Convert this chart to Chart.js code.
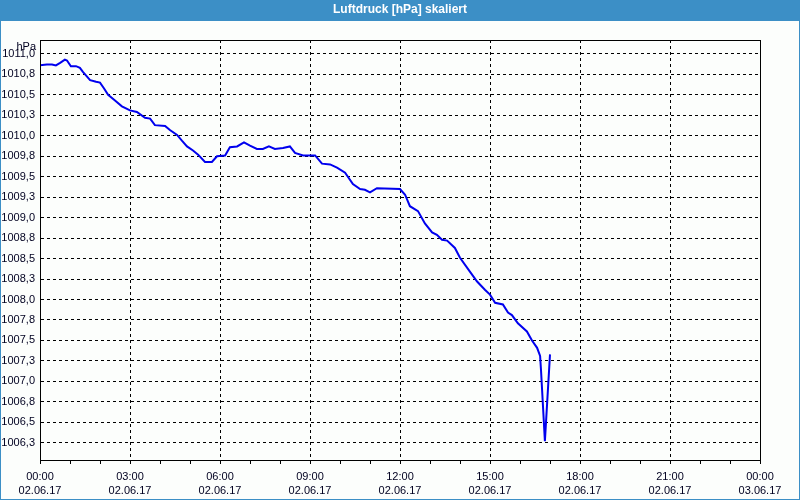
<!DOCTYPE html>
<html>
<head>
<meta charset="utf-8">
<script src="https://cdn.jsdelivr.net/npm/chart.js@4"></script>
<style>
  html, body { margin: 0; padding: 0; background: #fcfefc; }
  #wrap { width: 800px; height: 500px; position: relative; }
</style>
</head>
<body>
<div id="wrap"><canvas id="pressureChart" width="800" height="500"></canvas></div>
<script>
// hours since 02.06.17 00:00
const hours = [
  0.00, 0.23, 0.40, 0.53, 0.67, 0.83, 0.90, 1.03, 1.20, 1.33,
  1.43, 1.67, 1.87, 2.00, 2.13, 2.27, 2.50, 2.73, 2.90, 3.00,
  3.23, 3.50, 3.67, 3.83, 4.17, 4.33, 4.57, 4.73, 4.90, 5.10,
  5.27, 5.50, 5.73, 5.90, 6.17, 6.33, 6.57, 6.80, 7.00, 7.23,
  7.43, 7.63, 7.83, 8.10, 8.33, 8.50, 8.77, 9.17, 9.40, 9.67,
  9.90, 10.17, 10.43, 10.67, 10.83, 11.00, 11.23, 12.00, 12.17, 12.33,
  12.60, 12.83, 13.07, 13.23, 13.40, 13.57, 13.83, 14.00, 14.33, 14.57,
  14.83, 15.00, 15.17, 15.43, 15.60, 15.73, 15.93, 16.23, 16.40, 16.57,
  16.67, 16.70, 16.83, 17.00
];
const pressure = [
  1010.86, 1010.87, 1010.87, 1010.86, 1010.89, 1010.93, 1010.92, 1010.85, 1010.85, 1010.83,
  1010.78, 1010.68, 1010.66, 1010.65, 1010.58, 1010.50, 1010.43, 1010.36, 1010.33, 1010.31,
  1010.29, 1010.22, 1010.21, 1010.13, 1010.12, 1010.07, 1010.01, 1009.94, 1009.87, 1009.82,
  1009.77, 1009.68, 1009.68, 1009.75, 1009.76, 1009.86, 1009.87, 1009.92, 1009.88, 1009.84,
  1009.84, 1009.87, 1009.84, 1009.85, 1009.87, 1009.79, 1009.76, 1009.76, 1009.66, 1009.65,
  1009.61, 1009.55, 1009.41, 1009.35, 1009.34, 1009.31, 1009.36, 1009.35, 1009.28, 1009.14,
  1009.08, 1008.93, 1008.82, 1008.79, 1008.73, 1008.72, 1008.63, 1008.51, 1008.34, 1008.22,
  1008.12, 1008.06, 1007.96, 1007.94, 1007.84, 1007.81, 1007.71, 1007.61, 1007.50, 1007.41,
  1007.31, 1007.14, 1006.27, 1007.33
];
const yTicks = [
  1006.25, 1006.5, 1006.75, 1007.0, 1007.25, 1007.5, 1007.75, 1008.0, 1008.25, 1008.5,
  1008.75, 1009.0, 1009.25, 1009.5, 1009.75, 1010.0, 1010.25, 1010.5, 1010.75, 1011.0
];
const xTimeLabels = ["00:00", "03:00", "06:00", "09:00", "12:00", "15:00", "18:00", "21:00", "00:00"];
const xDateLabels = ["02.06.17", "02.06.17", "02.06.17", "02.06.17", "02.06.17", "02.06.17", "02.06.17", "02.06.17", "03.06.17"];

const TITLE = "Luftdruck [hPa] skaliert";
const UNIT = "hPa";
const FONT = "'Liberation Sans', Arial, sans-serif";

const frame = {
    id: "frame",
    beforeDraw(chart) {
        const c = chart.ctx;
        c.save();
        c.fillStyle = "#fcfefc";
        c.fillRect(0, 0, chart.width, chart.height);
        c.fillStyle = "#3c8fc6";
        c.fillRect(0, 0, chart.width, 21);
        c.fillRect(0, 0, 1, chart.height);
        c.fillRect(chart.width - 1, 0, 1, chart.height);
        c.fillRect(0, chart.height - 1, chart.width, 1);
        c.fillStyle = "#ffffff";
        c.font = "bold 12px " + FONT;
        c.textAlign = "center";
        c.textBaseline = "middle";
        c.fillText(TITLE, chart.width / 2, 10);
        c.restore();
    },
    afterDraw(chart) {
        const a = chart.chartArea;
        const c = chart.ctx;
        c.save();
        c.strokeStyle = "#000000";
        c.lineWidth = 1;
        c.setLineDash([]);
        c.strokeRect(Math.round(a.left) + 0.5, Math.round(a.top) + 0.5,
            Math.round(a.right - a.left), Math.round(a.bottom - a.top));
        c.fillStyle = "#000020";
        c.font = "11px " + FONT;
        c.textAlign = "right";
        c.textBaseline = "middle";
        c.fillText(UNIT, a.left - 4, a.top + 7);
        c.restore();
    }
};

new Chart(document.getElementById("pressureChart"), {
    type: "line",
    data: {
        datasets: [{
            data: hours.map((h, i) => ({ x: h, y: pressure[i] })),
            borderColor: "#0000ee",
            borderWidth: 2,
            pointRadius: 0,
            tension: 0,
            fill: false
        }]
    },
    plugins: [frame],
    options: {
        responsive: false,
        animation: false,
        layout: {
            padding: { top: 40, right: 40, bottom: 0, left: 0 }
        },
        scales: {
            x: {
                type: "linear",
                min: 0,
                max: 24,
                afterBuildTicks: axis => {
                    axis.ticks = [];
                    for (let h = 0; h <= 24; h++) axis.ticks.push({ value: h });
                },
                afterFit: axis => { axis.height = 40; },
                ticks: {
                    autoSkip: false,
                    maxRotation: 0,
                    padding: 6,
                    color: "#000020",
                    font: { family: FONT, size: 11, lineHeight: 1.27 },
                    callback: v => v % 3 === 0 ? [xTimeLabels[v / 3], xDateLabels[v / 3]] : ""
                },
                grid: {
                    color: ctx => (ctx.tick && ctx.tick.value % 3 === 0) ? "#000000" : "rgba(0,0,0,0)",
                    tickColor: "#000000",
                    tickLength: 4,
                    lineWidth: 1,
                    tickBorderDash: []
                },
                border: { display: true, color: "#000000", dash: [3, 3] }
            },
            y: {
                min: 1006.04,
                max: 1011.17,
                afterBuildTicks: axis => {
                    axis.ticks = yTicks.map(v => ({ value: v }));
                },
                afterFit: axis => { axis.width = 40; },
                ticks: {
                    autoSkip: false,
                    padding: 5,
                    color: "#000020",
                    font: { family: FONT, size: 11 },
                    callback: v => v.toFixed(1).replace(".", ",")
                },
                grid: {
                    color: "#000000",
                    drawTicks: false,
                    lineWidth: 1
                },
                border: { display: true, color: "#000000", dash: [3, 3] }
            }
        },
        plugins: {
            legend: { display: false },
            title: { display: false },
            tooltip: { enabled: false }
        }
    }
});
</script>
</body>
</html>
